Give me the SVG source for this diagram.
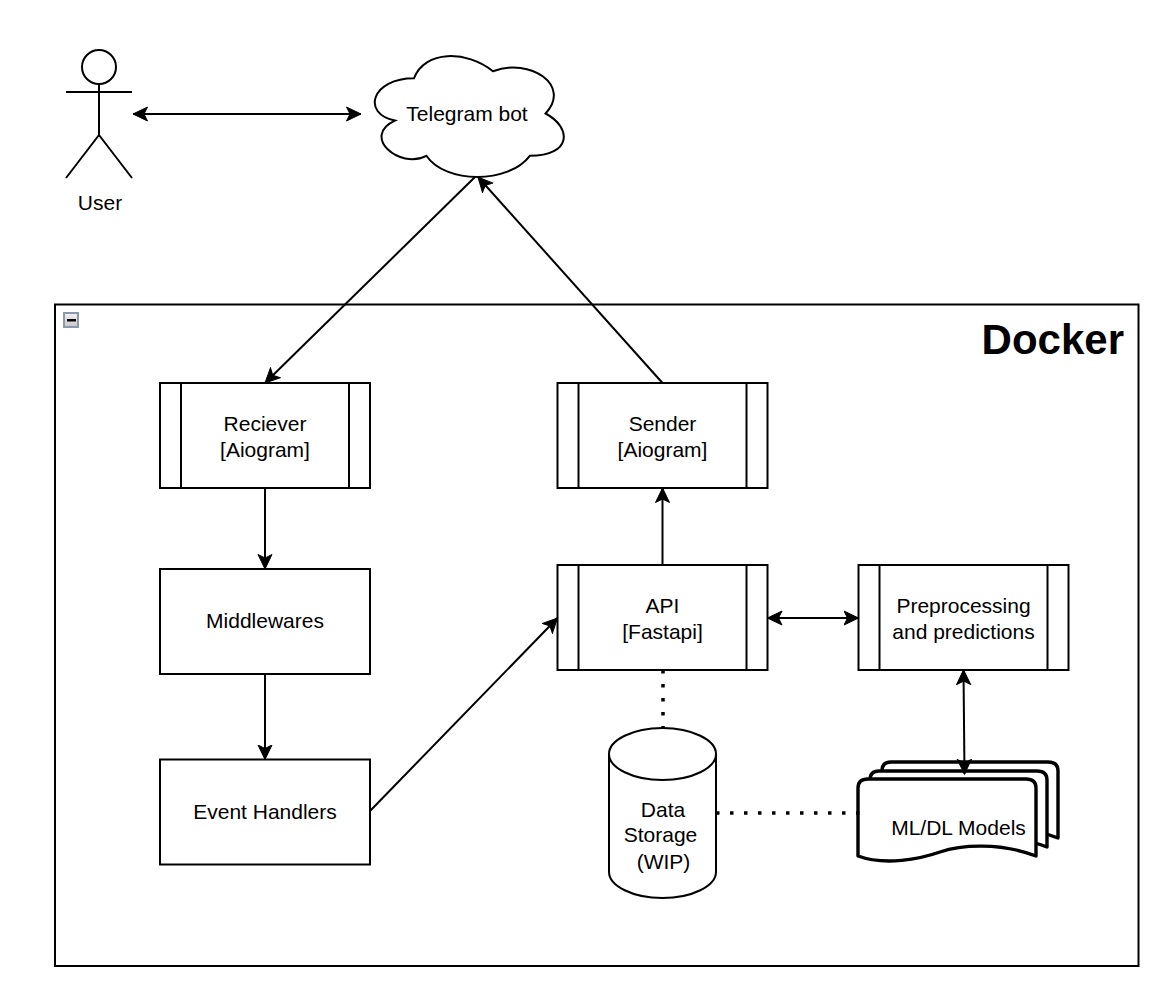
<svg xmlns="http://www.w3.org/2000/svg" width="1162" height="985" viewBox="0 0 1162 985">
<style>
.s{fill:#fff;stroke:#000;stroke-width:2}
.n{fill:none;stroke:#000;stroke-width:2}
.t{font-family:"Liberation Sans",Arial,sans-serif;font-size:21px;fill:#000;text-anchor:middle}
.d{fill:#fff;stroke:#000;stroke-width:3.400;stroke-linejoin:round}
.c{fill:none;stroke:#000;stroke-width:2}
.a{marker-end:url(#ah)}
.b{marker-start:url(#ah);marker-end:url(#ah)}
.o{fill:none;stroke:#000;stroke-width:3.500;stroke-dasharray:3.500 10.500}
</style>
<defs>
<marker id="ah" markerUnits="userSpaceOnUse" markerWidth="18" markerHeight="16" refX="15" refY="8" orient="auto-start-reverse" viewBox="0 0 18 16">
<path d="M0.500 1L15 8L0.500 15L4 8Z" fill="#000" stroke="#000" stroke-width="1"/>
</marker>
<linearGradient id="ig" x1="0" y1="0" x2="0" y2="1"><stop offset="0" stop-color="#f2f2f2"/><stop offset="1" stop-color="#c8c8c8"/></linearGradient>
</defs>
<rect width="1162" height="985" fill="#fff"/>
<g id="docker">
<rect x="55" y="304.500" width="1083.500" height="661.500" class="s"/>
<rect x="64" y="313" width="14" height="14" fill="url(#ig)" stroke="#8c97aa" stroke-width="2"/>
<rect x="67" y="319" width="9" height="2.500" fill="#000"/>
<text x="1124" y="354" text-anchor="end" style="font-family:'Liberation Sans',Arial,sans-serif;font-size:42px;font-weight:bold">Docker</text>
</g>
<g id="user">
<circle cx="99" cy="67" r="17" class="n"/>
<path d="M99 84V135M66 92H132M99 135L66 178M99 135L132 178" class="n"/>
<text x="100" y="210" class="t">User</text>
</g>
<g id="telegram-bot">
<path class="s" d="M414 78.250C371.700 78.250 361 113.500 394.900 120.550C361 136.060 399.100 169.900 426.400 155.800C445.400 184 508.700 184 529.800 155.800C572 155.800 572 127.600 545.600 113.500C572 85.300 529.800 57.100 492.900 71.200C466.500 50.050 424.500 50.050 414 78.250Z"/>
<text x="467" y="121" class="t">Telegram bot</text>
</g>
<g id="receiver">
<rect x="160" y="383" width="210" height="105" class="s"/>
<path d="M181 383V488M349 383V488" class="n"/>
<text x="265" y="431" class="t">Reciever</text>
<text x="265" y="457" class="t">[Aiogram]</text>
</g>
<g id="sender">
<rect x="557.500" y="383" width="210" height="105" class="s"/>
<path d="M578.500 383V488M746.500 383V488" class="n"/>
<text x="662.500" y="431" class="t">Sender</text>
<text x="662.500" y="457" class="t">[Aiogram]</text>
</g>
<g id="middlewares">
<rect x="160" y="569" width="210" height="105" class="s"/>
<text x="265" y="628" class="t">Middlewares</text>
</g>
<g id="event-handlers">
<rect x="160" y="759.500" width="210" height="105" class="s"/>
<text x="265" y="819" class="t">Event Handlers</text>
</g>
<g id="api">
<rect x="557.500" y="565" width="210" height="105" class="s"/>
<path d="M578.500 565V670M746.500 565V670" class="n"/>
<text x="662.500" y="613" class="t">API</text>
<text x="662.500" y="639" class="t">[Fastapi]</text>
</g>
<g id="preprocessing">
<rect x="858.500" y="565" width="210" height="105" class="s"/>
<path d="M879.500 565V670M1047.500 565V670" class="n"/>
<text x="963.500" y="613" class="t">Preprocessing</text>
<text x="963.500" y="639" class="t">and predictions</text>
</g>
<g id="data-storage">
<path class="s" d="M609 754C609 740 633 728 662.500 728C692 728 716 740 716 754V872C716 886 692 898 662.500 898C633 898 609 886 609 872Z"/>
<path class="n" d="M609 754C609 768 633 780 662.500 780C692 780 716 768 716 754"/>
<text x="663" y="817" class="t">Data</text>
<text x="660.500" y="842" class="t">Storage</text>
<text x="663.500" y="869" class="t">(WIP)</text>
</g>
<g id="ml-models">
<path class="d" d="M882 771Q882 762 891 762H1048Q1058 762 1058 771V838C1022 824 982 827 962 834C942 841 909 848 882 838Z"/>
<path class="d" d="M870 780Q870 771 879 771H1037Q1047 771 1047 780V847C1011 833 971 836 951 843C931 850 897 857 870 847Z"/>
<path class="d" d="M858 788Q858 779 868 779H1026Q1036 779 1036 788V856C1000 842 960 845 940 852C920 859 885 866 858 856Z"/>
<text x="958.500" y="835" class="t">ML/DL Models</text>
</g>
<g id="connectors">
<path class="c b" d="M133 114H361"/>
<path class="c a" d="M475 177L265 383"/>
<path class="c a" d="M662.500 383L478 177"/>
<path class="c a" d="M265 488V569"/>
<path class="c a" d="M265 674V759.500"/>
<path class="c a" d="M370 811L557.500 618"/>
<path class="c a" d="M662.500 565V488"/>
<path class="c b" d="M767.500 618H858.500"/>
<path class="c b" d="M963.500 670L964.500 774"/>
<path class="o" d="M663 670V728"/>
<path class="o" d="M716 813H860"/>
</g>
</svg>
